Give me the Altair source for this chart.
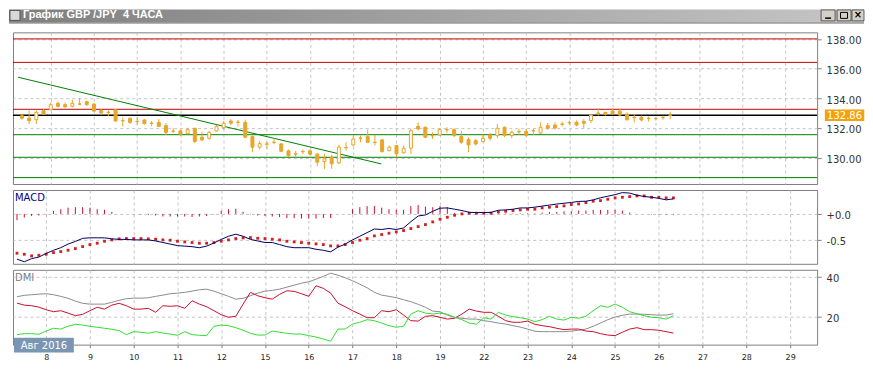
import altair as alt
import pandas as pd

# ---------------- data ----------------
bar_index = list(range(91))
opens = [132.83,132.67,132.56,133.17,133.23,133.66,133.57,133.46,133.62,133.77,
         133.61,133.17,133.06,133.23,132.50,132.65,132.45,132.54,132.32,132.38,
         132.16,131.80,131.80,131.62,131.98,131.38,131.31,131.80,132.02,132.47,
         132.40,132.38,131.42,130.71,130.93,131.04,130.93,130.46,130.26,130.42,
         130.46,130.24,129.74,130.03,129.66,130.69,130.86,131.33,131.42,131.04,
         131.20,130.48,130.82,130.33,130.64,132.11,132.05,131.49,131.53,131.89,
         131.89,131.42,131.22,131.15,131.08,131.53,131.49,132.05,131.49,131.76,
         131.76,131.82,131.67,132.16,132.20,132.27,132.38,132.38,132.45,132.50,
         133.01,133.05,133.14,133.14,132.94,132.72,132.72,132.65,132.65,132.72,
         132.84]
highs = [132.95,133.17,133.17,133.28,133.72,133.77,133.72,133.90,134.02,133.84,
         133.68,133.28,133.23,133.28,132.72,132.72,132.72,132.60,132.47,132.60,
         132.34,131.98,131.89,132.02,132.02,131.76,131.80,132.20,132.47,132.60,
         132.54,132.56,131.49,131.15,131.09,131.31,131.00,130.55,130.46,130.55,
         130.55,130.33,130.26,130.19,130.86,131.04,131.49,131.49,131.89,131.53,
         131.26,130.82,130.86,130.82,131.94,132.38,132.11,131.71,131.98,132.05,
         131.98,131.82,131.38,131.26,131.60,131.67,132.27,132.11,131.82,131.94,
         131.94,131.98,132.38,132.34,132.38,132.43,132.50,132.50,132.60,132.94,
         133.32,133.10,133.32,133.28,133.05,132.94,132.83,132.78,132.72,132.83,
         133.10]
lows = [132.56,132.27,132.27,132.88,133.19,133.39,133.35,133.39,133.55,133.50,
        133.10,132.87,132.79,132.43,132.11,132.29,132.23,132.23,132.11,132.07,
        131.53,131.67,131.49,131.58,131.00,131.13,131.22,131.76,131.89,132.20,
        132.11,131.31,130.37,130.55,130.60,130.91,130.37,130.04,130.01,130.24,
        130.15,129.43,129.25,129.25,129.56,130.48,130.77,131.04,131.00,130.82,
        130.33,130.42,130.04,130.26,130.26,131.82,131.31,131.26,131.49,131.67,
        131.38,130.93,130.37,130.82,131.04,131.15,131.31,131.38,131.31,131.53,
        131.44,131.53,131.60,131.89,131.89,132.11,132.20,132.11,131.98,132.34,
        132.83,132.83,132.87,132.83,132.49,132.38,132.45,132.43,132.50,132.56,
        132.60]
closes = [132.66,132.49,133.05,132.92,133.57,133.46,133.43,133.66,133.60,133.57,
          133.14,133.01,133.04,132.47,132.48,132.38,132.43,132.29,132.30,132.11,
          131.71,131.78,131.58,131.89,131.09,131.20,131.71,132.09,132.32,132.32,
          132.38,131.38,130.71,130.95,130.91,131.02,130.44,130.15,130.24,130.40,
          130.24,129.70,129.92,129.59,130.71,130.67,131.26,131.31,131.04,131.02,
          130.42,130.71,130.26,130.64,131.82,131.94,131.38,131.47,131.89,131.87,
          131.49,131.04,130.86,130.93,131.31,131.31,131.98,131.49,131.71,131.74,
          131.49,131.80,132.05,131.98,132.00,132.25,132.36,132.20,132.32,132.87,
          132.99,132.92,132.96,132.87,132.56,132.70,132.54,132.63,132.63,132.70,
          132.86]

red_levels = [138.0, 136.42, 133.26]
black_levels = [132.86]
green_levels = [131.55, 130.03, 128.66]
trend_bar = [-0.55, 49.9]
trend_price = [135.42, 129.58]
last_price = 132.86

macd_main = [-0.87,-0.92,-0.86,-0.83,-0.76,-0.70,-0.65,-0.58,-0.53,-0.47,
             -0.46,-0.46,-0.46,-0.48,-0.49,-0.49,-0.50,-0.50,-0.50,-0.52,
             -0.55,-0.58,-0.61,-0.62,-0.63,-0.65,-0.62,-0.56,-0.49,-0.43,
             -0.39,-0.43,-0.49,-0.52,-0.55,-0.55,-0.59,-0.63,-0.65,-0.65,
             -0.65,-0.68,-0.70,-0.73,-0.64,-0.58,-0.50,-0.43,-0.36,-0.29,
             -0.30,-0.28,-0.30,-0.27,-0.15,-0.04,-0.02,0.05,0.11,0.115,
             0.09,0.065,0.03,0.026,0.026,0.03,0.07,0.077,0.09,0.115,
             0.115,0.13,0.15,0.17,0.19,0.205,0.22,0.24,0.244,0.27,
             0.31,0.34,0.37,0.41,0.40,0.36,0.335,0.32,0.30,0.27,
             0.29]
macd_signal = [-0.756,-0.776,-0.808,-0.795,-0.776,-0.744,-0.724,-0.699,-0.667,-0.628,
               -0.59,-0.564,-0.526,-0.50,-0.48,-0.474,-0.474,-0.474,-0.48,-0.487,
               -0.50,-0.506,-0.526,-0.538,-0.551,-0.564,-0.564,-0.551,-0.526,-0.50,
               -0.474,-0.462,-0.455,-0.468,-0.474,-0.487,-0.50,-0.526,-0.538,-0.551,
               -0.564,-0.577,-0.59,-0.615,-0.615,-0.59,-0.551,-0.506,-0.474,-0.423,
               -0.397,-0.372,-0.346,-0.32,-0.282,-0.244,-0.205,-0.154,-0.103,-0.064,
               -0.026,0.0,0.013,0.013,0.013,0.013,0.038,0.051,0.064,0.077,
               0.09,0.09,0.115,0.128,0.141,0.154,0.18,0.192,0.218,0.244,
               0.256,0.282,0.308,0.32,0.333,0.346,0.346,0.32,0.32,0.308,
               0.308]
macd_hist = [-0.12,-0.07,-0.04,-0.03,-0.01,0.06,0.09,0.12,0.13,0.13,
             0.12,0.09,0.08,0.04,0.0,0.0,-0.005,-0.01,-0.02,-0.03,
             -0.05,-0.05,-0.05,-0.05,-0.06,-0.05,-0.04,-0.01,0.06,0.09,
             0.10,0.04,-0.01,-0.03,-0.04,-0.05,-0.06,-0.08,-0.08,-0.09,
             -0.09,-0.09,-0.08,-0.08,0.0,0.0,0.09,0.13,0.15,0.15,
             0.12,0.09,0.08,0.08,0.15,0.17,0.14,0.13,0.15,0.13,
             0.02,0.01,0.01,0.01,0.01,0.01,0.01,0.01,0.01,0.01,
             0.01,0.01,0.026,0.038,0.038,0.05,0.05,0.064,0.064,0.077,
             0.077,0.077,0.077,0.064,0.026,0.0,0.0,-0.01,-0.01,-0.01,
             -0.01]
macd_zero = [0.0]

dmi_adx = [30.0,30.7,31.0,31.3,31.5,31.0,30.2,29.2,27.8,26.7,
           26.3,26.3,26.3,27.2,28.2,29.0,29.3,29.3,29.5,30.2,
           30.8,31.5,31.8,32.2,32.8,33.5,33.8,32.8,31.5,30.2,
           28.8,29.2,30.5,31.8,32.8,33.2,33.8,34.8,35.8,36.8,
           37.5,38.8,40.2,41.8,40.8,39.5,38.0,36.3,34.5,32.2,
           30.8,30.2,29.5,28.5,27.5,26.2,24.7,22.8,22.5,20.8,
           19.7,19.2,18.8,18.8,18.0,17.5,16.8,16.3,15.5,14.8,
           13.8,12.7,12.5,12.5,12.5,12.5,12.8,13.2,13.8,15.2,
           16.8,18.5,19.8,20.7,21.3,21.3,21.2,21.0,20.8,20.8,
           21.5]
dmi_minus = [26.8,25.8,25.5,24.8,23.5,22.5,23.0,21.8,20.5,21.2,
             23.0,24.7,23.8,25.8,26.7,25.5,23.8,23.8,24.2,22.2,
             25.5,25.2,25.5,24.2,28.0,26.3,25.0,23.0,21.0,19.7,
             20.2,26.3,32.2,30.5,29.5,28.8,31.2,33.0,32.7,31.5,
             30.2,35.5,34.2,31.8,26.8,25.0,23.0,21.3,19.5,19.5,
             23.0,22.5,23.5,20.8,18.0,17.8,20.2,20.5,19.7,18.8,
             19.2,21.3,23.8,22.8,22.2,22.2,20.2,18.0,17.2,17.2,
             17.8,16.2,15.5,15.0,14.2,13.5,13.8,13.8,12.8,12.5,
             11.5,10.8,10.5,12.2,13.8,14.5,13.5,13.5,13.2,12.5,
             11.8]
dmi_plus = [11.0,11.5,11.5,11.2,12.8,14.2,13.8,15.2,16.2,15.8,
            15.2,14.7,14.2,13.7,13.0,11.0,12.5,12.2,11.7,12.5,
            11.8,11.3,10.7,12.5,11.0,10.7,10.5,15.2,15.8,15.5,
            14.5,13.2,11.7,10.8,10.8,12.8,12.2,11.7,11.3,11.3,
            10.5,9.8,8.8,7.7,13.8,13.8,16.3,17.2,18.5,18.0,
            16.8,15.5,14.7,15.2,21.3,23.0,21.8,21.3,21.8,21.2,
            19.7,18.5,16.8,16.3,19.5,18.8,22.2,20.8,20.0,19.5,
            18.8,17.5,18.5,20.2,18.8,18.3,19.7,19.2,20.2,23.0,
            25.5,24.7,26.3,24.7,22.5,21.5,20.5,19.7,19.5,18.8,
            20.5]

day_labels = ['8','9','10','11','12','15','16','17','18','19',
              '22','23','24','25','26','27','28','29']
price_ticks = [130, 132, 134, 136, 138]
macd_ticks = [0.0, -0.5]
dmi_ticks = [20, 40]
title_text = 'График GBP /JPY\u00a0\u00a04 ЧАСА'
date_badge = 'Авг 2016'

# ---------------- styles ----------------
FONT = 'DejaVu Sans'
CANDLE = '#e8a628'
LABEL_BG = '#f2a20a'
RED = '#c00000'
GREEN = '#008000'
GRID = '#c4c4c4'
FRAME = '#808080'
W = 806

candles = pd.DataFrame({'bar': bar_index, 'open': opens, 'high': highs,
                        'low': lows, 'close': closes})
macd = pd.DataFrame({'bar': bar_index, 'macd': macd_main,
                     'signal': macd_signal, 'hist': macd_hist,
                     'zero': macd_zero * len(bar_index)})
dmi = pd.DataFrame({'bar': bar_index, 'adx': dmi_adx, 'minus': dmi_minus,
                    'plus': dmi_plus})
one = pd.DataFrame({'d': [0]})
last_df = pd.DataFrame({'price': [last_price], 'txt': [f'{last_price:.2f}']})

tick_vals = [4 + 6 * k for k in range(len(day_labels))]
label_arr = '[' + ','.join("'" + s + "'" for s in day_labels) + ']'

xscale = alt.Scale(domain=[-0.55, 109.7], nice=False, zero=False)
x_hidden = alt.Axis(values=tick_vals, labels=False, ticks=False, domain=False,
                    grid=True, title=None)
x_bottom = alt.Axis(values=tick_vals, labelExpr=label_arr + '[round((datum.value-4)/6)]',
                    ticks=True, tickSize=3, tickColor=FRAME, domain=False, grid=True,
                    labelFont=FONT, labelFontSize=8, labelColor='#222222',
                    labelPadding=6, title=None)


def yaxis(values, **kw):
    return alt.Axis(values=values, orient='right', grid=True, domain=False,
                    ticks=True, tickSize=4, tickColor=FRAME, labelPadding=5,
                    labelOffset=2,
                    labelFont=FONT, labelFontSize=10, labelColor='#333333',
                    title=None, **kw)


ys_main = alt.Scale(domain=[128.23, 138.44], nice=False, zero=False)
ya_main = yaxis(price_ticks, format='.2f')
ys_macd = alt.Scale(domain=[-0.96, 0.46], nice=False, zero=False)
ya_macd = yaxis(macd_ticks, labelExpr="datum.value >= 0 ? '+0.0' : '-0.5'")
ys_dmi = alt.Scale(domain=[6, 43.5], nice=False, zero=False)
ya_dmi = yaxis(dmi_ticks)

Xm = alt.X('bar:Q', scale=xscale, axis=x_hidden)

# ---------------- main price panel ----------------
def level_rules(vals, color, width=1):
    return alt.Chart(pd.DataFrame({'level': vals})).mark_rule(
        color=color, strokeWidth=width).encode(
        y=alt.Y('level:Q', scale=ys_main, axis=ya_main))

reds = level_rules(red_levels, RED)
blacks = level_rules(black_levels, '#000000', 1.3)
greens = level_rules(green_levels, GREEN)

trend = alt.Chart(pd.DataFrame({'bar': trend_bar, 'p': trend_price})).mark_line(
    color=GREEN, strokeWidth=1).encode(
    x=alt.X('bar:Q', scale=xscale, axis=x_hidden),
    y=alt.Y('p:Q', scale=ys_main, axis=ya_main))

wicks = alt.Chart(candles).mark_rule(color=CANDLE, strokeWidth=1).encode(
    x=Xm, y=alt.Y('low:Q', scale=ys_main, axis=ya_main), y2='high:Q')
bodies = alt.Chart(candles).mark_bar(size=3, stroke=CANDLE, strokeWidth=1).encode(
    x=Xm, y=alt.Y('open:Q', scale=ys_main, axis=ya_main), y2='close:Q',
    fill=alt.condition('datum.close > datum.open', alt.value('white'), alt.value(CANDLE)))

box_path = 'M-1,-0.29L1,-0.29L1,0.29L-1,0.29Z'
price_bg = alt.Chart(last_df).mark_point(shape=box_path, size=1560, filled=True,
                                         color=LABEL_BG, opacity=1).encode(
    x=alt.value(833.5), y=alt.Y('price:Q', scale=ys_main, axis=ya_main))
price_txt = alt.Chart(last_df).mark_text(font=FONT, fontSize=10, color='white',
                                         align='center', baseline='middle', dy=1).encode(
    x=alt.value(833.5), y=alt.Y('price:Q', scale=ys_main, axis=ya_main),
    text='txt:N')

# window chrome (title bar, buttons)
grad = alt.LinearGradient(gradient='linear',
                          stops=[alt.GradientStop(color='#7f7f7f', offset=0),
                                 alt.GradientStop(color='#c6c6c6', offset=1)],
                          x1=0, x2=1, y1=0, y2=0)
title_bar = alt.Chart(one).mark_rect(fill=grad).encode(
    x=alt.value(-4), x2=alt.value(853), y=alt.value(-23), y2=alt.value(-10))
title_line = alt.Chart(one).mark_rect(fill='#6a6a6a').encode(
    x=alt.value(-4), x2=alt.value(853), y=alt.value(-10), y2=alt.value(-9))
title_txt = alt.Chart(one).mark_text(font='Liberation Sans', fontSize=11,
                                     fontWeight='bold', color='white',
                                     align='left', baseline='middle').encode(
    x=alt.value(10), y=alt.value(-17), text=alt.value(title_text))
icon = alt.Chart(one).mark_rect(fill='#d8d8d8', stroke='#404040', strokeWidth=0.8).encode(
    x=alt.value(-3), x2=alt.value(7), y=alt.value(-22), y2=alt.value(-12))
buttons = []
for bx, bw in [(810, 14), (826, 14), (841, 12)]:
    buttons.append(alt.Chart(one).mark_rect(fill='#d4d0c8', stroke='#404040',
                                            strokeWidth=0.8).encode(
        x=alt.value(bx), x2=alt.value(bx + bw), y=alt.value(-22.5), y2=alt.value(-11.5)))
glyph_min = alt.Chart(one).mark_rect(fill='#000000').encode(
    x=alt.value(814), x2=alt.value(820), y=alt.value(-15), y2=alt.value(-13.5))
glyph_max = alt.Chart(one).mark_rect(fill='none', stroke='#000000', strokeWidth=1).encode(
    x=alt.value(829.5), x2=alt.value(836.5), y=alt.value(-20), y2=alt.value(-14))
glyph_close = alt.Chart(one).mark_text(font=FONT, fontSize=10, fontWeight='bold',
                                       color='#000000', align='center',
                                       baseline='middle').encode(
    x=alt.value(847), y=alt.value(-17), text=alt.value('×'))

main = alt.layer(reds, greens, blacks, trend, wicks, bodies, price_bg, price_txt,
                 title_bar, title_line, title_txt, icon, *buttons,
                 glyph_min, glyph_max, glyph_close).properties(width=W, height=152)

# ---------------- MACD panel ----------------
hist = alt.Chart(macd).mark_rule(color='#c8102e', strokeWidth=1).encode(
    x=Xm, y=alt.Y('hist:Q', scale=ys_macd, axis=ya_macd), y2='zero:Q')
sig = alt.Chart(macd).mark_square(size=8, color='#d42020', opacity=1).encode(
    x=Xm, y=alt.Y('signal:Q', scale=ys_macd, axis=ya_macd))
mline = alt.Chart(macd).mark_line(color='#000060', strokeWidth=1).encode(
    x=Xm, y=alt.Y('macd:Q', scale=ys_macd, axis=ya_macd))
mlabel = alt.Chart(one).mark_text(font=FONT, fontSize=10, color='#000080',
                                  align='left', baseline='middle').encode(
    x=alt.value(2), y=alt.value(8), text=alt.value('MACD'))
macd_panel = alt.layer(hist, sig, mline, mlabel).properties(width=W, height=74)

# ---------------- DMI panel ----------------
Xb = alt.X('bar:Q', scale=xscale, axis=x_bottom)


def dmi_line(field, color):
    return alt.Chart(dmi).mark_line(color=color, strokeWidth=1).encode(
        x=Xb, y=alt.Y(f'{field}:Q', scale=ys_dmi, axis=ya_dmi))

dlabel = alt.Chart(one).mark_text(font=FONT, fontSize=10, color='#808080',
                                  align='left', baseline='middle').encode(
    x=alt.value(2), y=alt.value(8), text=alt.value('DMI'))
badge = alt.Chart(one).mark_rect(fill='#7b96b2').encode(
    x=alt.value(1), x2=alt.value(61), y=alt.value(68), y2=alt.value(83))
badge_txt = alt.Chart(one).mark_text(font=FONT, fontSize=10, color='white',
                                     align='center', baseline='middle').encode(
    x=alt.value(31), y=alt.value(76), text=alt.value(date_badge))

dmi_panel = alt.layer(dmi_line('adx', '#8c8c8c'), dmi_line('minus', '#c8102e'),
                      dmi_line('plus', '#33dd33'), dlabel, badge,
                      badge_txt).properties(width=W, height=75)

chart = alt.vconcat(main, macd_panel, dmi_panel, spacing=6, bounds='flush').properties(
    padding=0, background='white'
).configure_view(stroke=FRAME, strokeWidth=1).configure_axis(
    gridColor=GRID, gridDash=[3, 3], gridWidth=1)

chart.save("out.html", embed_options={"renderer": "svg", "actions": False})
